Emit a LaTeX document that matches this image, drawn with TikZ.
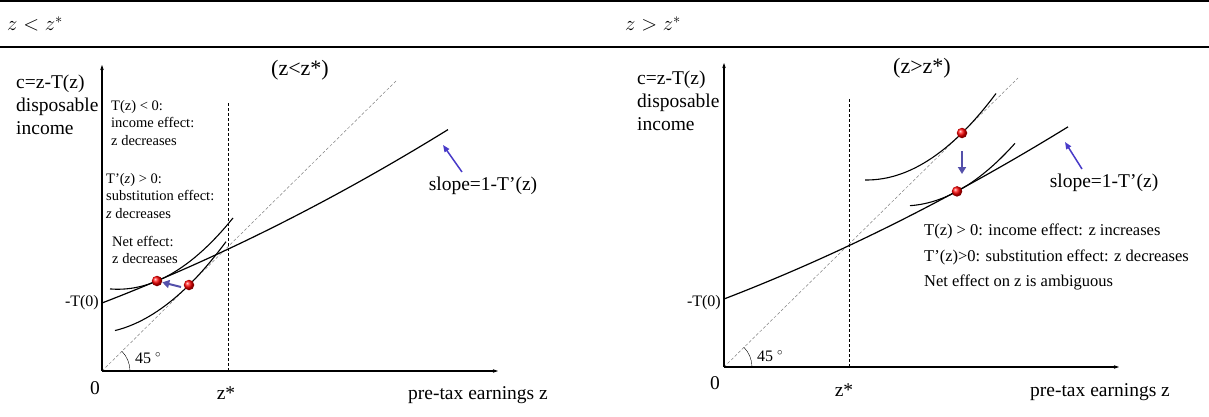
\documentclass[tikz,border=0pt]{standalone}
\usepackage{fontspec}
\setmainfont{Liberation Serif}
\usetikzlibrary{positioning, arrows.meta}

\definecolor{slopeblue}{RGB}{72,58,200}
\definecolor{shiftblue}{RGB}{84,80,170}

\tikzset{
  axisline/.style={line width=1.3pt, -{Stealth[length=5pt,width=3.5pt]}},
  budget/.style={line width=1.2pt},
  icurve/.style={line width=1.1pt},
  diag/.style={gray, line width=0.5pt, densely dashed},
  zstar/.style={line width=0.8pt, dash pattern=on 3pt off 2pt},
  slopearrow/.style={draw=slopeblue, line width=1.5pt, -{Triangle[length=7pt,width=5.5pt]}},
  shiftarrow/.style={draw=shiftblue, line width=2pt, -{Triangle[length=7pt,width=8pt]}},
  eqdot/.style={circle, inner sep=0pt, minimum size=10.5pt, ball color=red},
  lab/.style={font=\fontsize{19.5}{23}\selectfont, inner sep=0pt},
  small/.style={font=\fontsize{16}{18}\selectfont, inner sep=0pt},
  note/.style={font=\fontsize{14.5}{17.5}\selectfont, align=left, inner sep=0pt, anchor=north west},
  head/.style={font=\fontsize{22}{26}\selectfont, inner sep=0pt, anchor=west}
}

\begin{document}
\begin{tikzpicture}[x=1pt, y=1pt]
  \useasboundingbox (0,0) rectangle (1209,416);

  % table header
  \draw[line width=1.6pt] (0,415.2) -- (1209,415.2);
  \draw[line width=1.4pt] (0,369) -- (1209,369);
  \node[head] (hleft) at (7,392) {$z<z^*$};
  \node[head] (hright) at (625,392) {$z>z^*$};

  % left panel: z < z*
  \begin{scope}[shift={(102,45)}]
    \coordinate (Lo) at (0,0);
    \coordinate (Ly) at (0,306);
    \coordinate (Lx) at (396,0);
    \coordinate (Lzb) at (126,0);
    \coordinate (Lzt) at (126,269);
    \coordinate (Ld) at (294,290);
    \draw[diag] (Lo) -- (Ld);
    \draw[zstar] (Lzb) -- (Lzt);
    \draw[axisline] (Lo) -- (Ly);
    \draw[axisline] (Lo) -- (Lx);
    \draw (28,0) arc[start angle=0, end angle=45, radius=28];

    \draw[budget] plot[domain=0:346, samples=40] (\x, {68+0.385*\x+0.00033*\x*\x});
    \draw[icurve] plot[domain=8:131, samples=30] (\x, {90+0.421*(\x-55)+0.00537*(\x-55)*(\x-55)});
    \draw[icurve] plot[domain=13:124, samples=30] (\x, {86+0.986*(\x-87)+0.005*(\x-87)*(\x-87)});

    \node[eqdot] (Ldot1) at (55,90) {};
    \node[eqdot] (Ldot2) at (87,86) {};
    \coordinate (Lsh) at (79,84);
    \draw[shiftarrow] (Lsh) -- (Ldot1);

    \node[lab, anchor=north west, align=left] (Lylab) at (-86,296) {c=z-T(z)\\disposable\\income};
    \node[small, anchor=east] (Lt0) at (-3,68) {-T(0)};
    \node[lab] (L0) at (-7,-17) {0};
    \node[lab] (Lzs) at (124,-22) {z*};
    \node[lab] (Lxlab) at (376,-24) {pre-tax earnings z};
    \node[small] (L45) at (46,13) {45 $^{\circ}$};
    \node[head, anchor=center] (Ltitle) at (198,301) {(z<z*)};

    \node[lab] (Lslope) at (381,185) {slope=1-T’(z)};
    \coordinate (Lsb) at (360,199);
    \coordinate (Lsa) at (341,226);
    \draw[slopearrow] (Lsb) -- (Lsa);

    \node[note] (Ln1) at (9,271) {T(z) < 0:\\income effect:\\z decreases};
    \node[note] (Ln2) at (4,198) {T’(\textit{z}) > 0:\\substitution effect:\\\textit{z} decreases};
    \node[note] (Ln3) at (10,135) {Net effect:\\z decreases};
  \end{scope}

  % right panel: z > z*
  \begin{scope}[shift={(724,49)}]
    \coordinate (Ro) at (0,0);
    \coordinate (Ry) at (0,304);
    \coordinate (Rx) at (395,0);
    \coordinate (Rzb) at (125,0);
    \coordinate (Rzt) at (125,269);
    \coordinate (Rd) at (294,289);
    \draw[diag] (Ro) -- (Rd);
    \draw[zstar] (Rzb) -- (Rzt);
    \draw[axisline] (Ro) -- (Ry);
    \draw[axisline] (Ro) -- (Rx);
    \draw (28,0) arc[start angle=0, end angle=45, radius=28];

    \draw[budget] plot[domain=0:344, samples=40] (\x, {68+0.385*\x+0.00033*\x*\x});
    \draw[icurve] plot[domain=141:272, samples=30] (\x, {234+0.986*(\x-238)+0.00517*(\x-238)*(\x-238)});
    \draw[icurve] plot[domain=186:291, samples=30] (\x, {175.6+0.539*(\x-233)+0.005*(\x-233)*(\x-233)});

    \node[eqdot] (Rdot1) at (238,234) {};
    \node[eqdot] (Rdot2) at (233,175.6) {};
    \coordinate (Rsf) at (238,216);
    \coordinate (Rst) at (238,193);
    \draw[shiftarrow] (Rsf) -- (Rst);

    \node[lab, anchor=north west, align=left] (Rylab) at (-87,296) {c=z-T(z)\\disposable\\income};
    \node[small, anchor=east] (Rt0) at (-3,64) {-T(0)};
    \node[lab] (R0) at (-9,-16) {0};
    \node[lab] (Rzs) at (120,-23) {z*};
    \node[lab] (Rxlab) at (376,-25) {pre-tax earnings z};
    \node[small] (R45) at (46,11) {45 $^{\circ}$};
    \node[head, anchor=center] (Rtitle) at (198,299) {(z>z*)};

    \node[lab] (Rslope) at (380,184) {slope=1-T’(z)};
    \coordinate (Rsb) at (358,198);
    \coordinate (Rsa) at (341,225);
    \draw[slopearrow] (Rsb) -- (Rsa);

    \node[note, font=\fontsize{16.5}{25.5}\selectfont] (Rn) at (200,143)
      {T(z) > 0: income effect: z increases\\T’(z)>0: substitution effect: z decreases\\Net effect on z is ambiguous};
  \end{scope}
\end{tikzpicture}
\end{document}
